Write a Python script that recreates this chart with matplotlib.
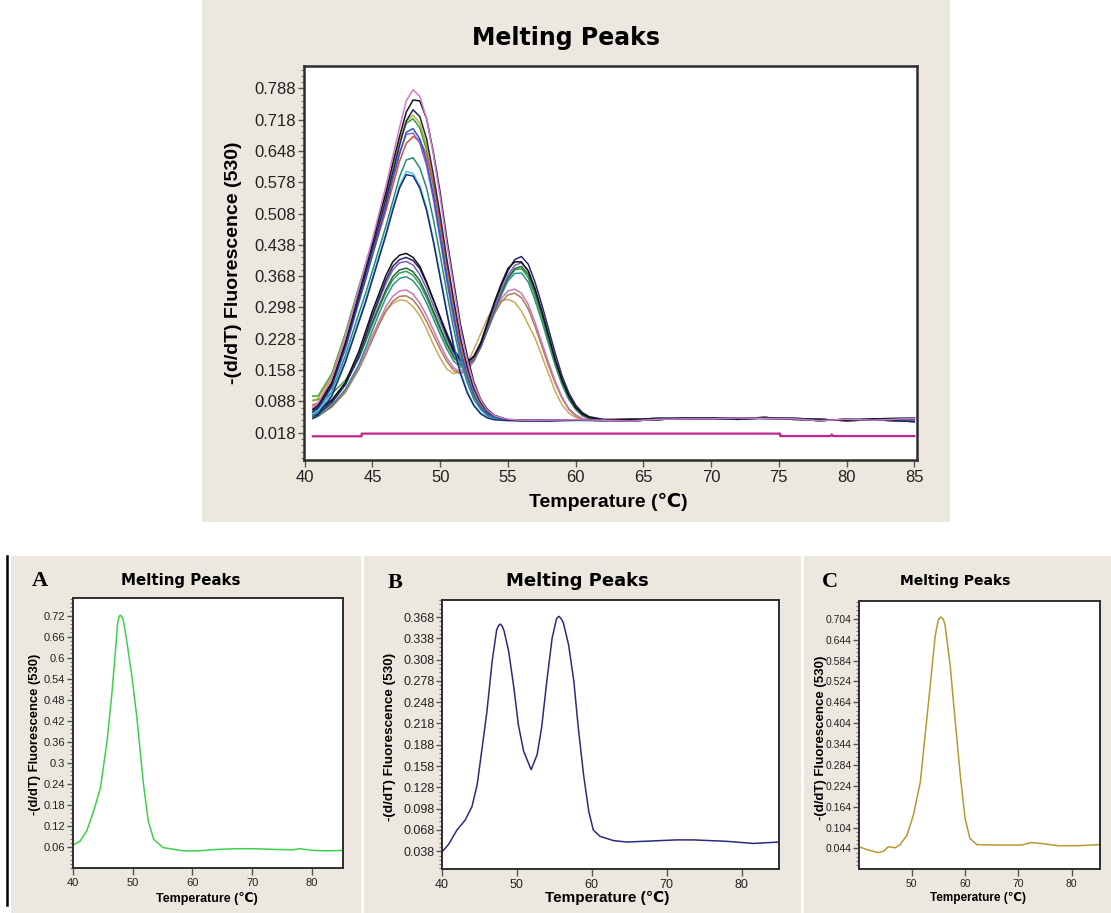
import matplotlib
matplotlib.use("Agg")
import matplotlib.pyplot as plt
from matplotlib.patches import Rectangle
from matplotlib.lines import Line2D
from matplotlib.ticker import AutoMinorLocator, FixedLocator

# ---------------- data ----------------
# big plot: temperature grids for the two genotype groups and the shared flat tail
SINGLE_T = [40.6, 41, 42, 43, 44, 44.5, 45, 45.5, 46, 46.5, 47, 47.5, 48, 48.5, 49,
            49.5, 50, 50.5, 51, 51.5, 52, 52.5, 53, 53.5, 54, 55, 56, 58, 60, 62]
DOUBLE_T = [40.6, 41, 42, 43, 44, 44.5, 45, 45.5, 46, 46.5, 47, 47.5, 48, 48.5, 49,
            49.5, 50, 50.5, 51, 51.5, 52, 52.5, 53, 53.5, 54, 54.5, 55, 55.5, 56, 56.5,
            57, 57.5, 58, 58.5, 59, 59.5, 60, 60.5, 61, 62]
TAIL_T = [64, 66, 68, 70, 72, 74, 76, 78, 80, 82, 85]

TAIL_A = [0.047, 0.050, 0.050, 0.051, 0.050, 0.052, 0.048, 0.047, 0.046, 0.049, 0.050]
TAIL_B = [0.044, 0.048, 0.049, 0.049, 0.051, 0.050, 0.049, 0.045, 0.048, 0.046, 0.050]
TAIL_C = [0.048, 0.047, 0.051, 0.049, 0.048, 0.051, 0.050, 0.048, 0.045, 0.047, 0.043]

# single melting peak (~47.7 C)
single_pink = [.075, .085, .14, .23, .34, .395, .45, .51, .57, .635, .70, .76, .785, .77, .72,
               .64, .545, .44, .345, .25, .18, .125, .09, .068, .056, .048, .046, .046, .047, .046]
single_black = [.07, .08, .13, .22, .33, .385, .44, .50, .555, .62, .68, .735, .762, .76, .72,
                .645, .555, .45, .355, .26, .19, .13, .092, .07, .057, .047, .045, .046, .046, .047]
single_navy = [.065, .075, .125, .215, .32, .375, .43, .485, .54, .60, .66, .715, .740, .725, .675,
               .595, .505, .405, .315, .23, .165, .115, .085, .065, .055, .047, .046, .045, .047, .046]
single_olive = [.09, .095, .145, .235, .34, .39, .44, .495, .55, .61, .67, .715, .728, .71, .66,
                .58, .49, .39, .30, .215, .155, .11, .08, .062, .053, .047, .046, .047, .046, .046]
single_green = [.10, .10, .15, .24, .345, .395, .445, .50, .555, .615, .67, .71, .72, .70, .65,
                .57, .48, .38, .29, .21, .15, .105, .078, .06, .052, .048, .046, .046, .047, .045]
single_blue = [.06, .07, .12, .205, .31, .36, .415, .47, .525, .585, .64, .69, .698, .675, .625,
               .55, .46, .365, .28, .20, .145, .10, .075, .06, .052, .047, .045, .046, .046, .047]
single_purple = [.07, .078, .125, .21, .315, .365, .42, .475, .53, .59, .645, .685, .688, .665, .615,
                 .54, .45, .355, .27, .195, .14, .10, .074, .058, .051, .046, .046, .045, .047, .046]
single_red = [.08, .085, .13, .215, .315, .365, .415, .465, .515, .57, .625, .665, .68, .672, .64,
              .575, .49, .395, .305, .22, .16, .115, .083, .063, .053, .047, .046, .046, .046, .047]
single_teal = [.055, .065, .11, .19, .285, .33, .38, .43, .48, .535, .59, .628, .633, .61, .565,
               .495, .415, .33, .25, .18, .13, .092, .07, .056, .05, .046, .045, .046, .047, .046]
single_cyan = [.06, .068, .105, .18, .27, .315, .365, .415, .465, .52, .57, .602, .598, .57, .52,
               .45, .37, .29, .215, .155, .11, .08, .062, .052, .048, .046, .045, .046, .045, .046]
single_navy2 = [.05, .058, .10, .175, .265, .31, .36, .41, .46, .515, .565, .595, .592, .565, .515,
                .445, .365, .285, .21, .15, .107, .078, .06, .051, .047, .045, .045, .044, .046, .045]

# two melting peaks (~47.5 C and ~55.5 C)
double_black = [.06, .065, .09, .13, .20, .245, .29, .33, .37, .40, .415, .419, .41, .39, .355,
                .315, .275, .235, .20, .18, .175, .19, .22, .265, .31, .35, .385, .40, .40, .38,
                .34, .29, .235, .18, .135, .10, .075, .06, .052, .047]
double_navy = [.055, .06, .085, .125, .19, .235, .28, .32, .36, .39, .405, .41, .403, .385, .352,
               .315, .277, .24, .205, .183, .176, .188, .215, .26, .305, .345, .38, .405, .412, .395,
               .355, .305, .25, .195, .145, .107, .08, .063, .054, .048]
double_purple = [.065, .068, .09, .128, .19, .232, .275, .315, .352, .382, .398, .401, .393, .372, .34,
                 .302, .265, .228, .195, .175, .17, .183, .21, .252, .295, .335, .37, .392, .398, .38,
                 .34, .29, .237, .183, .137, .10, .075, .06, .052, .047]
double_dkgreen = [.07, .072, .092, .128, .185, .225, .265, .302, .338, .367, .382, .386, .378, .358, .327,
                  .29, .253, .218, .188, .17, .168, .182, .21, .25, .292, .33, .363, .385, .39, .372,
                  .333, .285, .232, .18, .135, .098, .073, .058, .051, .047]
double_green = [.09, .092, .105, .135, .185, .222, .26, .297, .332, .36, .375, .379, .37, .35, .32,
                .284, .248, .214, .186, .17, .17, .185, .213, .252, .293, .33, .362, .382, .385, .365,
                .325, .277, .225, .175, .13, .095, .071, .057, .05, .046]
double_teal = [.05, .055, .078, .115, .17, .208, .247, .285, .32, .348, .363, .367, .358, .338, .308,
               .273, .238, .205, .178, .165, .167, .182, .21, .248, .288, .325, .357, .374, .375, .355,
               .315, .268, .217, .168, .125, .092, .07, .056, .05, .046]
double_pink = [.06, .063, .08, .113, .165, .198, .233, .268, .30, .323, .335, .337, .328, .308, .28,
               .248, .215, .185, .163, .153, .16, .18, .212, .25, .288, .318, .335, .339, .33, .305,
               .265, .22, .175, .133, .098, .072, .058, .05, .047, .046]
double_brown = [.055, .058, .076, .108, .16, .192, .226, .26, .29, .312, .323, .324, .315, .295, .267,
                .236, .205, .177, .157, .15, .158, .178, .21, .247, .283, .31, .326, .33, .32, .295,
                .256, .212, .168, .128, .095, .07, .056, .049, .046, .045]
double_tan = [.05, .055, .075, .11, .165, .20, .235, .265, .29, .307, .315, .313, .30, .28, .25,
              .215, .185, .16, .15, .155, .175, .205, .24, .275, .30, .313, .316, .31, .29, .26,
              .23, .19, .15, .11, .08, .062, .052, .047, .046, .045]

# negative control, flat
ntc_t = [40.6, 44.2, 44.2, 75.1, 75.1, 78.8, 78.9, 79.0, 85.0]
ntc_v = [0.010, 0.010, 0.016, 0.016, 0.0105, 0.0105, 0.014, 0.0105, 0.0105]

SINGLE_CURVES = [
    (single_green, TAIL_A, "#2f9e3c"), (single_olive, TAIL_B, "#b9b12c"),
    (single_red, TAIL_C, "#d8532c"), (single_purple, TAIL_A, "#8a68c6"),
    (single_blue, TAIL_B, "#3a52c8"), (single_teal, TAIL_C, "#2a8a78"),
    (single_cyan, TAIL_A, "#4ec6e0"), (single_navy2, TAIL_B, "#1c2a7a"),
    (single_navy, TAIL_C, "#24245c"), (single_black, TAIL_A, "#151515"),
    (single_pink, TAIL_B, "#d07ad0"),
]
DOUBLE_CURVES = [
    (double_tan, TAIL_C, "#c9a85e"), (double_brown, TAIL_A, "#b07a52"),
    (double_pink, TAIL_B, "#c87ab8"), (double_teal, TAIL_C, "#2f9090"),
    (double_green, TAIL_A, "#3aa048"), (double_dkgreen, TAIL_B, "#1f6a3a"),
    (double_purple, TAIL_C, "#7d5fb5"), (double_navy, TAIL_A, "#28286e"),
    (double_black, TAIL_B, "#111111"),
]

TOP_YTICKS = [0.018, 0.088, 0.158, 0.228, 0.298, 0.368, 0.438, 0.508, 0.578, 0.648, 0.718, 0.788]
TOP_XTICKS = [40, 45, 50, 55, 60, 65, 70, 75, 80, 85]

# panel A: single peak sample
a_t = [40, 41.2, 42.3, 43.4, 44.6, 45.7, 46.5, 47.1, 47.45, 47.7, 47.9, 48.2, 48.45, 49.0, 49.9,
       50.7, 51.3, 51.8, 52.6, 53.5, 55.1, 58.5, 61.2, 64.0, 67.5, 70.1, 74.0, 76.8, 78.0, 80.2,
       82.5, 85.2]
a_v = [0.065, 0.077, 0.106, 0.159, 0.229, 0.362, 0.495, 0.618, 0.695, 0.716, 0.721, 0.716, 0.704,
       0.647, 0.542, 0.428, 0.324, 0.239, 0.134, 0.082, 0.058, 0.049, 0.049, 0.053, 0.055, 0.055,
       0.053, 0.052, 0.055, 0.050, 0.049, 0.050]
A_YTICKS = [0.06, 0.12, 0.18, 0.24, 0.3, 0.36, 0.42, 0.48, 0.54, 0.6, 0.66, 0.72]

# panel B: double peak sample
b_t = [40, 40.9, 42, 43.1, 44, 44.7, 45.3, 46, 46.7, 47.3, 47.55, 47.8, 48.05, 48.3, 48.9, 49.6,
       50.2, 50.9, 51.9, 52.7, 53.3, 54, 54.7, 55.3, 55.6, 55.9, 56.2, 56.9, 57.6, 58.2, 58.9,
       59.6, 60.2, 61.1, 62.9, 64.7, 69.1, 71.3, 73.6, 78, 81.6, 85]
b_v = [0.037, 0.048, 0.068, 0.082, 0.101, 0.132, 0.179, 0.235, 0.306, 0.350, 0.356, 0.358, 0.355,
       0.348, 0.320, 0.268, 0.216, 0.179, 0.153, 0.174, 0.212, 0.278, 0.338, 0.366, 0.369, 0.366,
       0.360, 0.329, 0.278, 0.212, 0.146, 0.094, 0.068, 0.059, 0.053, 0.051, 0.053, 0.054, 0.054,
       0.052, 0.049, 0.051]
B_YTICKS = [0.038, 0.068, 0.098, 0.128, 0.158, 0.188, 0.218, 0.248, 0.278, 0.308, 0.338, 0.368]

# panel C: single high-temperature peak
c_t = [40.1, 41.9, 43.75, 44.7, 45.6, 46.9, 47.8, 49.1, 50.3, 51.6, 52.5, 53.4, 54.4, 55.0, 55.4,
       55.9, 56.25, 57.2, 58.1, 59.1, 60.0, 60.9, 62.2, 65.6, 70.6, 72.5, 74.4, 77.5, 81.25, 85.3]
c_v = [0.049, 0.039, 0.032, 0.036, 0.049, 0.046, 0.055, 0.082, 0.140, 0.235, 0.369, 0.503, 0.656,
       0.702, 0.709, 0.703, 0.685, 0.570, 0.417, 0.254, 0.130, 0.073, 0.055, 0.054, 0.054, 0.061,
       0.058, 0.052, 0.052, 0.055]
C_YTICKS = [0.044, 0.104, 0.164, 0.224, 0.284, 0.344, 0.404, 0.464, 0.524, 0.584, 0.644, 0.704]

# ---------------- layout helpers ----------------
W, H = 1111, 913
BEIGE = "#ece8df"
SANS = ["Liberation Sans", "DejaVu Sans"]
TITLE_FONT = ["DejaVu Sans"]

fig = plt.figure(figsize=(W / 100, H / 100), dpi=100)
fig.patch.set_facecolor("white")


def box(x0, y0, x1, y1):
    return [x0 / W, 1 - y1 / H, (x1 - x0) / W, (y1 - y0) / H]


def ftext(x, y, s, **kw):
    fig.text(x / W, 1 - y / H, s, ha="center", va="center", **kw)


def panel_bg(x0, y0, x1, y1):
    fig.patches.append(Rectangle((x0 / W, 1 - y1 / H), (x1 - x0) / W, (y1 - y0) / H,
                                 transform=fig.transFigure, facecolor=BEIGE,
                                 edgecolor="none", zorder=-5))


def style_axes(ax, yticks, xticks, tick_size, spine_w=1.5):
    for sp in ax.spines.values():
        sp.set_color("#2e2e2e")
        sp.set_linewidth(spine_w)
    ax.yaxis.set_major_locator(FixedLocator(yticks))
    ax.set_yticklabels(["%g" % v for v in yticks])
    ax.yaxis.set_minor_locator(AutoMinorLocator(5))
    ax.set_xticks(xticks)
    ax.set_xticklabels([str(v) for v in xticks])
    ax.tick_params(axis="y", which="major", direction="out", length=4, width=1,
                   color="#555555", pad=1.5, labelsize=tick_size, labelcolor="#222222")
    ax.tick_params(axis="y", which="minor", direction="out", length=2, width=0.8,
                   color="#777777")
    ax.tick_params(axis="x", which="major", direction="out", length=5, width=1,
                   color="#555555", pad=2, labelsize=tick_size, labelcolor="#222222")
    for lab in ax.get_xticklabels() + ax.get_yticklabels():
        lab.set_family(SANS)


# ---------------- big plot ----------------
panel_bg(202, 0, 950, 522)
ax = fig.add_axes(box(304, 66, 917, 460))
ax.set_facecolor("white")

for head, tail, color in DOUBLE_CURVES:
    ax.plot(DOUBLE_T + TAIL_T, head + tail, color=color, lw=1.1)
for head, tail, color in SINGLE_CURVES:
    ax.plot(SINGLE_T + TAIL_T, head + tail, color=color, lw=1.1)
ax.plot(ntc_t, ntc_v, color="#c0268e", lw=1.6)

ax.set_xlim(39.95, 85.2)
ax.set_ylim(-0.043, 0.838)
style_axes(ax, TOP_YTICKS, TOP_XTICKS, 12, spine_w=1.8)

ftext(566, 38, "Melting Peaks", family=TITLE_FONT, fontweight="bold", fontsize=17)
ftext(233, 263, "-(d/dT) Fluorescence (530)", family=SANS, fontweight="bold",
      fontsize=14, rotation=90)
ftext(608, 502, "Temperature (\u2103)", family=SANS, fontweight="bold", fontsize=14)

# ---------------- panels A, B, C ----------------
panel_bg(11, 556, 361, 913)
panel_bg(364, 556, 801, 913)
panel_bg(804, 556, 1111, 913)
fig.lines.append(Line2D([7 / W, 7 / W], [1 - 556 / H, 1 - 905 / H],
                        transform=fig.transFigure, color="black", lw=1.8))

panels = [
    dict(letter="A", letter_xy=(40, 581), bx=(73, 598, 343, 868), t=a_t, v=a_v,
         color="#3fd04a", ylim=(0.0, 0.77), xlim=(40, 85.2), yticks=A_YTICKS,
         xticks=[40, 50, 60, 70, 80], tick=8, title_xy=(181, 581), title_size=10.8,
         ylab_xy=(35, 734), ylab_size=9.4, xlab_xy=(207, 898), xlab_size=9),
    dict(letter="B", letter_xy=(395, 583), bx=(442, 600, 779, 869), t=b_t, v=b_v,
         color="#2b2b7d", ylim=(0.013, 0.392), xlim=(40, 85.0), yticks=B_YTICKS,
         xticks=[40, 50, 60, 70, 80], tick=9, title_xy=(577, 581), title_size=13,
         ylab_xy=(390, 737), ylab_size=9.7, xlab_xy=(607, 898), xlab_size=11),
    dict(letter="C", letter_xy=(830, 582), bx=(859, 601, 1100, 869), t=c_t, v=c_v,
         color="#b39a32", ylim=(-0.015, 0.755), xlim=(40.1, 85.3), yticks=C_YTICKS,
         xticks=[50, 60, 70, 80], tick=7.5, title_xy=(955, 581), title_size=10,
         ylab_xy=(821, 738), ylab_size=9.5, xlab_xy=(978, 898), xlab_size=8.5),
]

for p in panels:
    pax = fig.add_axes(box(*p["bx"]))
    pax.set_facecolor("white")
    pax.plot(p["t"], p["v"], color=p["color"], lw=1.1)
    pax.set_xlim(*p["xlim"])
    pax.set_ylim(*p["ylim"])
    style_axes(pax, p["yticks"], p["xticks"], p["tick"], spine_w=1.4)
    ftext(*p["letter_xy"], p["letter"], family=["Liberation Serif", "DejaVu Serif"],
          fontweight="bold", fontsize=16)
    ftext(*p["title_xy"], "Melting Peaks", family=TITLE_FONT, fontweight="bold",
          fontsize=p["title_size"])
    ftext(*p["ylab_xy"], "-(d/dT) Fluorescence (530)", family=SANS, fontweight="bold",
          fontsize=p["ylab_size"], rotation=90)
    ftext(*p["xlab_xy"], "Temperature (\u2103)", family=SANS, fontweight="bold",
          fontsize=p["xlab_size"])

fig.savefig("out.png", dpi=100, facecolor="white")
